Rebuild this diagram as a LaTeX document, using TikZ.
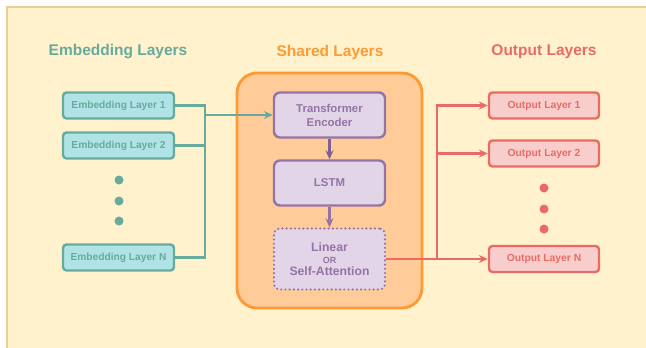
\documentclass[tikz,border=0pt]{standalone}
\usepackage{fontspec}
\setmainfont{Liberation Sans}
\usepackage{xcolor}
\definecolor{paper}{HTML}{FFF2CC}
\definecolor{paperEdge}{HTML}{E6D09A}
\definecolor{embFill}{HTML}{B0E3E6}
\definecolor{embLine}{HTML}{67AB9F}
\definecolor{shFill}{HTML}{FFCC99}
\definecolor{shLine}{HTML}{FF9933}
\definecolor{layFill}{HTML}{E1D5E7}
\definecolor{layLine}{HTML}{9673A6}
\definecolor{layDark}{HTML}{7E5F96}
\definecolor{outFill}{HTML}{F8CECC}
\definecolor{outLine}{HTML}{EA6B66}
\usetikzlibrary{arrows.meta}

\begin{document}
\begin{tikzpicture}[x=1pt, y=-1pt,
  link/.style={line width=2.1pt},
  tip/.style={-{Stealth[length=9pt,width=8pt,inset=3pt]}},
  embbox/.style={rectangle, rounded corners=3.5pt, draw=embLine, fill=embFill, line width=2.4pt,
    minimum width=111pt, minimum height=26pt, text=embLine, font=\bfseries\fontsize{10.2}{12}\selectfont},
  outbox/.style={rectangle, rounded corners=3.5pt, draw=outLine, fill=outFill, line width=2.4pt,
    minimum width=110pt, minimum height=26pt, text=outLine, font=\bfseries\fontsize{10.3}{12}\selectfont},
  laybox/.style={rectangle, rounded corners=6pt, draw=layLine, fill=layFill, line width=2.4pt,
    minimum width=111pt, text=layLine, align=center, font=\bfseries\fontsize{11.4}{14}\selectfont},
  title/.style={font=\bfseries\fontsize{15.5}{18}\selectfont}]
  \useasboundingbox (0,0) rectangle (646,348);
  \filldraw[fill=paper, draw=paperEdge, line width=1.8pt] (7,7) rectangle (660,360);

  % titles
  \node[title, text=embLine] (embTitle) at (118,52) {Embedding Layers};
  \node[title, text=shLine] (shTitle) at (330,52) {Shared Layers};
  \node[title, text=outLine] (outTitle) at (544,52) {Output Layers};

  % embedding side
  \node[embbox] (emb1) at (118.5,105.5) {Embedding Layer 1};
  \node[embbox] (emb2) at (118.5,145.5) {Embedding Layer 2};
  \node[embbox] (embN) at (118.5,257.5) {Embedding Layer N};
  \foreach \y in {180,201,221}
    \fill[embLine] (119,\y) circle (4.5pt);

  % shared block
  \filldraw[fill=shFill, draw=shLine, line width=2.8pt, rounded corners=20pt] (237,73) rectangle (422,308);
  \node[laybox, minimum height=45pt] (enc) at (329.5,115) {Transformer\\Encoder};
  \node[laybox, minimum height=45pt] (lstm) at (329.5,183) {LSTM};
  \node[laybox, minimum height=61pt, line cap=round, dash pattern=on 0pt off 4.2pt] (lin) at (329.5,259)
    {\fontsize{12.2}{14}\selectfont Linear\\[-2pt]{\fontsize{9}{12}\selectfont OR}\\[-2pt]\fontsize{12.2}{14}\selectfont Self-Attention};

  % output side
  \node[outbox] (out1) at (544,105.5) {Output Layer 1};
  \node[outbox] (out2) at (544,153.5) {Output Layer 2};
  \node[outbox] (outN) at (544,259) {Output Layer N};
  \foreach \y in {188,209,229}
    \fill[outLine] (544,\y) circle (4.5pt);

  % connectors
  \coordinate (embJoin) at (205,115);
  \draw[embLine, link] (emb1.east) -| (embJoin);
  \draw[embLine, link] (emb2.east) -| (embJoin);
  \draw[embLine, link] (embN.east) -| (embJoin);
  \draw[embLine, link, tip] (embJoin) -- (enc.west);
  \draw[layDark, link, tip] (enc.south) -- (lstm.north);
  \draw[layLine, link, tip] (lstm.south) -- (lin.north);
  \coordinate (outJoin) at (437,259);
  \draw[outLine, link, tip] (lin.east) -- (outN.west);
  \draw[outLine, link, tip] (outJoin) |- (out1.west);
  \draw[outLine, link, tip] (outJoin) |- (out2.west);
\end{tikzpicture}
\end{document}
